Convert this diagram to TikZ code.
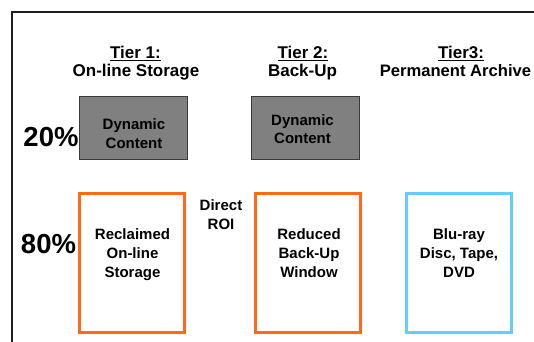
\documentclass[tikz,border=0pt]{standalone}
\usepackage{fontspec}
\setmainfont{Liberation Sans}
\definecolor{boxorange}{HTML}{FF6A13}
\definecolor{boxblue}{HTML}{66CCFF}
\definecolor{boxgray}{HTML}{808080}
\definecolor{boxgrayline}{HTML}{3A3A3A}
\definecolor{framecol}{HTML}{1E1E1E}
\begin{document}
\begin{tikzpicture}[x=1pt,y=-1pt,
  every node/.style={inner sep=0pt, outer sep=0pt},
  hdr/.style={anchor=base, font=\fontsize{17}{20}\selectfont\bfseries},
  pct/.style={anchor=base, font=\fontsize{27.5}{30}\selectfont\bfseries},
  btxt/.style={anchor=base, font=\fontsize{15}{19}\selectfont\bfseries},
  graybox/.style={draw=boxgrayline, fill=boxgray, line width=1pt, minimum width=108pt, minimum height=63pt},
  tallbox/.style={line width=3pt, minimum width=105pt, minimum height=139pt},
  ulline/.style={line width=1.3pt},
  framestyle/.style={draw=framecol, line width=2pt}
]
\useasboundingbox (0,0) rectangle (534,341);
% frame
\coordinate (fr1) at (540,11.5);
\coordinate (fr2) at (11.5,11.5);
\coordinate (fr3) at (11.5,345);
\draw[framestyle] (fr1) -- (fr2) -- (fr3);

% headers
\node[hdr] (h1a) at (135.5,58) {Tier 1:};
\node[hdr] (h1b) at (136,76) {On-line Storage};
\node[hdr] (h2a) at (303,58) {Tier 2:};
\node[hdr] (h2b) at (302.5,76) {Back-Up};
\node[hdr] (h3a) at (461,58) {Tier3:};
\node[hdr, font=\fontsize{16.6}{20}\selectfont\bfseries] (h3b) at (455.5,76) {Permanent Archive};
\foreach \n in {h1a,h2a,h3a}
  \draw[ulline] ([yshift=-2.6pt]\n.base west) -- ([yshift=-2.6pt]\n.base east);

% percentages
\node[pct] (p20) at (51,146) {20\%};
\node[pct] (p80) at (48.5,253) {80\%};

% gray boxes
\node[graybox] (g1) at (133.5,128) {};
\node[graybox] (g2) at (305.5,128) {};
\node[btxt] (g1a) at (134,129) {Dynamic};
\node[btxt] (g1b) at (134,148) {Content};
\node[btxt] (g2a) at (302.5,125) {Dynamic};
\node[btxt] (g2b) at (302.5,143.5) {Content};

% tall boxes
\node[tallbox, draw=boxorange] (o1) at (132,263) {};
\node[tallbox, draw=boxorange] (o2) at (308,263) {};
\node[tallbox, draw=boxblue] (bl) at (459,263) {};

\node[btxt] (o1a) at (132.5,239) {Reclaimed};
\node[btxt] (o1b) at (132.5,258) {On-line};
\node[btxt] (o1c) at (132.5,277) {Storage};
\node[btxt] (o2a) at (309,239) {Reduced};
\node[btxt] (o2b) at (309,258) {Back-Up};
\node[btxt] (o2c) at (309,277) {Window};
\node[btxt] (bla) at (459,239) {Blu-ray};
\node[btxt] (blb) at (459,258) {Disc, Tape,};
\node[btxt] (blc) at (459,277) {DVD};

\node[btxt] (roia) at (221,210.5) {Direct};
\node[btxt] (roib) at (221,229) {ROI};
\end{tikzpicture}
\end{document}
